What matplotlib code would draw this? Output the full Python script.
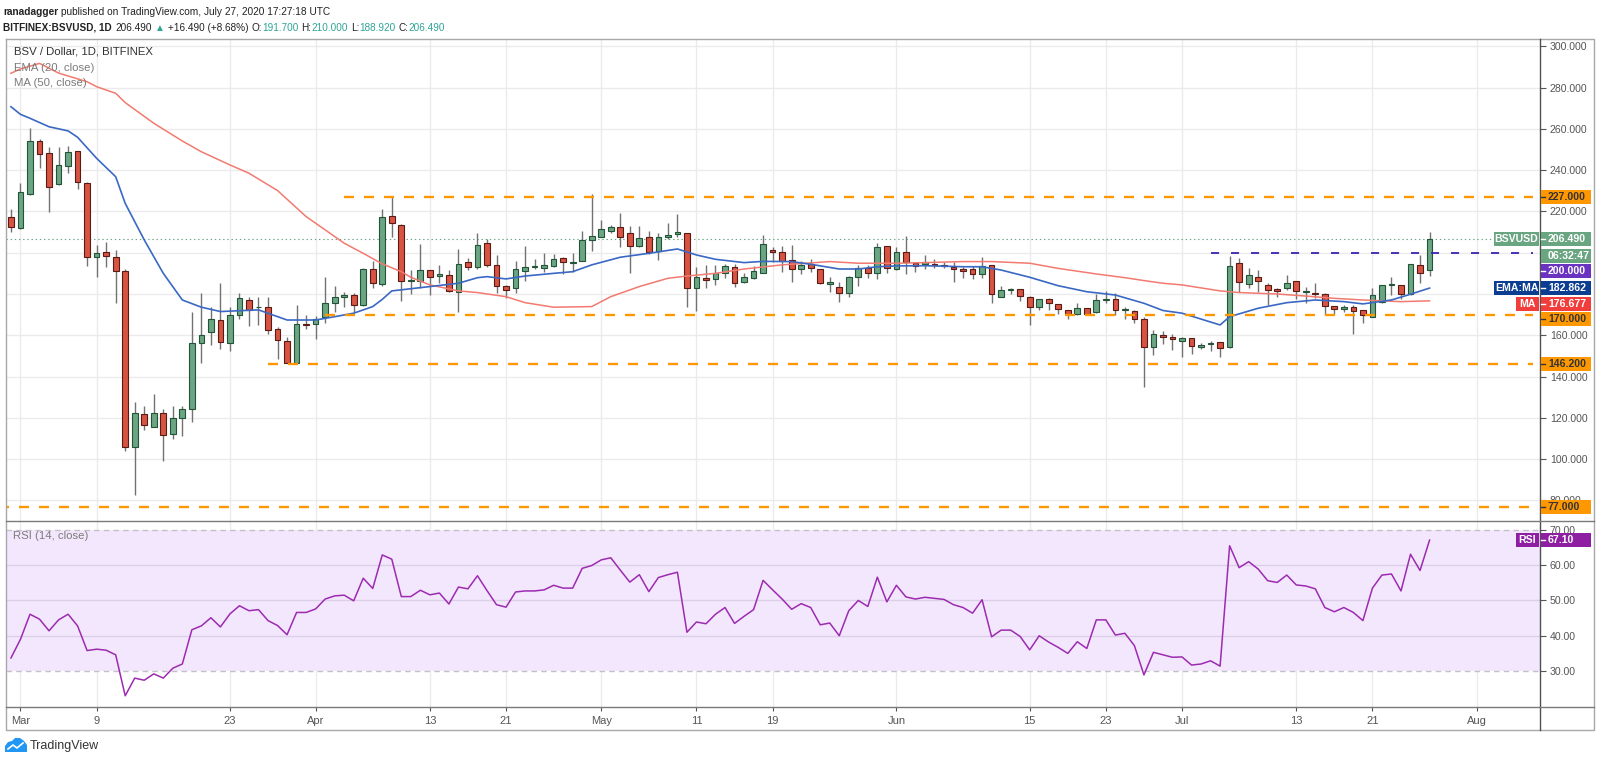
import pandas as pd
import matplotlib
matplotlib.use('Agg')
import matplotlib.pyplot as plt
import matplotlib.dates as mdates
from matplotlib.patches import Rectangle, Polygon
from matplotlib.lines import Line2D

plt.rcParams['font.family'] = ['Liberation Sans', 'DejaVu Sans']
plt.rcParams['lines.scale_dashes'] = False

W, H = 1600, 763

# daily candles, BITFINEX BSV/USD
dates = pd.date_range('2020-02-29', '2020-07-27', freq='D')
opens = [217.1, 211.8, 228.3, 254.3, 248.1, 233.3, 242.2, 249.1, 233.9, 198.1,
         200.5, 198.1, 191.0, 105.8, 121.7, 115.8, 122.2, 112.1, 120.1, 124.3,
         156.1, 161.6, 167.4, 156.4, 169.7, 177.1, 173.5, 173.6, 162.9, 157.4,
         146.8, 165.3, 165.5, 168.7, 175.5, 178.4, 179.4, 174.5, 192.3, 184.9,
         217.8, 213.4, 186.3, 186.5, 191.6, 188.7, 189.0, 181.1, 195.4, 192.9,
         204.6, 194.0, 184.0, 182.8, 191.3, 193.3, 192.8, 193.7, 197.6, 194.9,
         196.2, 206.2, 207.8, 210.5, 212.3, 209.4, 203.4, 207.5, 200.8, 207.5,
         208.9, 209.4, 183.1, 187.8, 187.4, 190.3, 193.3, 185.7, 187.6, 190.3,
         201.3, 200.5, 196.4, 192.3, 194.4, 192.3, 185.0, 183.6, 180.3, 188.1,
         192.6, 190.0, 203.2, 191.9, 200.5, 195.2, 194.4, 194.4, 193.9, 193.1,
         191.9, 191.9, 189.7, 193.9, 178.7, 181.9, 182.2, 178.7, 173.5, 177.4,
         175.0, 172.3, 170.3, 173.1, 171.1, 177.1, 177.7, 172.1, 171.8, 168.1,
         154.2, 160.2, 159.4, 157.4, 158.5, 154.2, 155.8, 156.6, 154.2, 194.9,
         184.9, 188.4, 184.4, 182.3, 182.8, 186.3, 181.1, 180.7, 179.9, 174.2,
         172.6, 173.9, 172.3, 169.0, 176.3, 184.4, 184.4, 180.0, 193.9, 191.7]
highs = [221.2, 233.6, 260.2, 255.1, 251.0, 251.0, 251.7, 249.4, 234.4, 203.7,
         205.0, 201.3, 192.3, 127.9, 125.8, 131.4, 124.3, 125.8, 125.8, 171.5,
         180.7, 173.9, 185.2, 173.6, 180.7, 178.7, 178.7, 178.4, 164.2, 159.0,
         174.5, 169.7, 169.5, 188.4, 184.1, 181.1, 180.3, 192.5, 196.0, 221.2,
         226.8, 213.9, 191.6, 204.2, 191.8, 194.0, 191.6, 201.6, 197.3, 209.4,
         206.5, 198.9, 184.4, 196.2, 203.3, 196.8, 200.0, 199.4, 197.8, 199.7,
         210.7, 228.4, 215.9, 213.4, 219.1, 213.0, 213.0, 210.5, 209.7, 214.2,
         218.6, 209.5, 193.3, 194.1, 194.1, 194.5, 194.5, 190.0, 193.7, 208.6,
         202.9, 203.2, 203.7, 196.1, 197.1, 192.3, 188.1, 185.6, 188.5, 194.0,
         194.2, 204.5, 203.4, 202.9, 208.1, 195.2, 198.7, 197.1, 195.6, 195.6,
         192.9, 193.5, 197.7, 194.0, 183.8, 182.7, 182.3, 178.8, 177.5, 178.2,
         175.1, 172.4, 175.8, 173.2, 180.0, 181.4, 180.6, 173.5, 172.2, 168.7,
         162.6, 162.3, 160.6, 159.4, 158.6, 156.1, 157.4, 156.9, 198.4, 197.3,
         192.4, 191.6, 185.2, 182.8, 189.2, 186.3, 183.6, 185.2, 180.3, 174.3,
         174.7, 174.7, 172.4, 182.8, 184.5, 188.4, 184.5, 194.5, 198.7, 210.0]
lows = [209.9, 211.5, 228.0, 240.9, 219.9, 233.0, 238.5, 230.7, 193.7, 188.1,
        193.3, 175.5, 104.0, 82.7, 114.2, 115.5, 99.1, 110.0, 111.3, 118.2,
        146.8, 155.3, 153.2, 152.6, 168.1, 164.7, 165.0, 160.8, 148.4, 146.4,
        146.5, 163.2, 158.2, 166.1, 171.3, 173.9, 171.0, 174.2, 182.8, 184.0,
        207.8, 176.6, 180.0, 182.8, 179.5, 185.5, 181.0, 171.5, 191.6, 192.0,
        193.3, 180.7, 178.2, 180.7, 186.5, 192.0, 190.5, 192.9, 189.5, 190.7,
        196.0, 200.8, 207.5, 209.4, 202.6, 190.3, 202.6, 199.2, 196.5, 206.5,
        207.8, 173.9, 171.9, 182.8, 184.4, 187.6, 183.6, 185.2, 187.1, 190.0,
        195.7, 190.8, 186.0, 189.7, 190.8, 184.8, 181.1, 176.3, 178.7, 184.0,
        187.9, 187.1, 190.0, 191.6, 189.5, 190.8, 191.9, 192.4, 192.4, 186.0,
        187.9, 187.4, 187.6, 175.8, 178.4, 180.0, 176.8, 164.8, 172.2, 172.2,
        170.2, 167.7, 169.8, 169.8, 170.8, 175.5, 169.8, 167.7, 165.9, 134.8,
        150.5, 155.8, 152.9, 149.3, 151.0, 153.2, 152.6, 149.7, 153.7, 181.1,
        182.8, 181.1, 174.7, 178.4, 182.0, 177.4, 175.8, 177.9, 169.8, 170.3,
        171.5, 160.6, 165.8, 168.8, 175.8, 179.5, 177.4, 179.5, 185.2, 188.92]
closes = [212.3, 229.6, 254.3, 247.8, 231.7, 242.5, 248.6, 234.4, 197.9, 200.0,
          198.3, 191.0, 105.8, 122.2, 116.4, 122.6, 111.7, 119.8, 124.2, 156.1,
          160.3, 168.1, 156.9, 169.7, 177.9, 172.3, 173.8, 162.7, 157.7, 146.8,
          165.3, 164.9, 168.1, 175.8, 178.4, 179.4, 174.5, 192.3, 185.2, 217.5,
          214.6, 186.3, 186.5, 191.6, 188.1, 189.5, 181.5, 194.4, 193.3, 203.6,
          194.1, 184.0, 182.0, 192.3, 193.1, 193.4, 194.1, 196.8, 195.4, 195.6,
          206.2, 208.1, 211.3, 212.3, 207.8, 203.4, 207.0, 200.5, 207.5, 208.4,
          209.9, 183.1, 188.1, 186.8, 190.3, 193.4, 185.5, 188.4, 191.3, 204.2,
          200.4, 196.1, 191.9, 193.9, 192.7, 185.3, 186.0, 180.3, 188.4, 192.4,
          190.3, 202.6, 192.4, 200.5, 195.3, 193.7, 195.5, 194.2, 193.8, 192.3,
          191.3, 189.7, 193.5, 179.8, 181.9, 182.0, 179.0, 173.9, 177.4, 175.5,
          172.7, 170.2, 173.1, 170.2, 177.1, 177.2, 172.2, 172.9, 168.1, 154.5,
          160.6, 159.4, 158.1, 158.5, 154.8, 155.3, 155.9, 153.7, 193.6, 186.0,
          189.2, 186.5, 182.0, 181.6, 185.2, 181.6, 181.2, 180.0, 174.2, 172.9,
          173.9, 171.9, 169.8, 179.5, 184.4, 184.9, 180.0, 194.4, 190.0, 206.49]

# RSI (14, close), one value per candle
rsi = [33.7, 39.0, 46.1, 44.7, 41.4, 44.5, 46.1, 42.8, 35.8, 36.2,
       35.9, 34.6, 23.0, 28.0, 27.4, 29.2, 28.0, 30.8, 32.0, 41.7,
       42.8, 45.1, 42.5, 46.2, 48.5, 47.1, 47.4, 44.3, 42.9, 40.3,
       46.6, 46.6, 47.6, 50.4, 51.3, 51.5, 49.9, 56.3, 53.4, 62.9,
       61.7, 51.1, 51.1, 52.9, 51.6, 52.1, 49.0, 53.8, 53.3, 57.0,
       52.8, 48.8, 48.1, 52.4, 52.7, 52.7, 53.0, 54.3, 53.5, 53.5,
       59.1, 59.9, 61.5, 62.1, 58.6, 55.2, 57.3, 52.5, 56.5, 57.3,
       58.0, 41.0, 43.9, 43.4, 46.1, 48.0, 43.5, 45.5, 47.4, 55.7,
       53.0, 50.4, 47.5, 49.1, 48.0, 43.1, 43.6, 40.0, 47.1, 50.0,
       48.3, 56.6, 49.6, 54.3, 51.0, 50.4, 50.9, 50.6, 50.3, 48.8,
       48.0, 46.4, 50.2, 39.7, 41.6, 41.6, 39.8, 36.0, 40.0, 38.2,
       36.7, 35.0, 38.3, 36.4, 44.5, 44.5, 40.2, 40.7, 37.2, 28.9,
       35.3, 34.6, 33.9, 34.0, 31.7, 32.0, 32.9, 31.4, 65.5, 59.3,
       61.0, 58.9, 55.6, 55.1, 57.2, 54.4, 54.1, 53.3, 48.0, 46.8,
       48.0, 46.6, 44.3, 53.5, 57.2, 57.5, 52.7, 63.1, 58.5, 67.1]

# EMA (20, close)
ema_dates = ['02-29', '03-01', '03-02', '03-04', '03-06', '03-07', '03-09', '03-11',
             '03-12', '03-14', '03-16', '03-18', '03-20', '03-22', '03-26', '03-29',
             '04-01', '04-03', '04-05', '04-07', '04-08', '04-09', '04-13', '04-16',
             '04-18', '04-19', '04-21', '04-23', '04-26', '04-28', '04-30', '05-03',
             '05-06', '05-09', '05-11', '05-13', '05-16', '05-18', '05-21', '05-23',
             '05-26', '05-28', '05-30', '06-01', '06-04', '06-08', '06-10', '06-12',
             '06-15', '06-18', '06-21', '06-24', '06-27', '06-29', '07-01', '07-05',
             '07-06', '07-09', '07-12', '07-15', '07-18', '07-20', '07-23', '07-25',
             '07-27']
ema_vals = [270.7, 267.0, 265.1, 261.0, 259.0, 255.9, 245.7, 236.8,
            223.9, 206.2, 190.0, 177.1, 173.6, 171.5, 172.3, 167.4,
            167.4, 169.0, 170.7, 173.9, 177.4, 181.5, 183.6, 185.2,
            187.9, 188.4, 187.3, 188.7, 190.0, 190.8, 194.1, 197.8,
            199.7, 201.8, 198.9, 196.8, 195.2, 195.8, 195.7, 194.4,
            192.1, 192.1, 193.2, 193.6, 193.7, 193.2, 193.2, 191.6,
            188.1, 184.0, 181.1, 179.5, 175.5, 172.0, 170.7, 165.0,
            169.0, 173.1, 175.8, 177.1, 176.3, 175.2, 177.1, 179.9,
            182.862]

# MA (50, close)
ma_dates = ['02-29', '03-01', '03-03', '03-05', '03-08', '03-09', '03-11', '03-12',
            '03-15', '03-18', '03-20', '03-23', '03-25', '03-28', '03-31', '04-04',
            '04-06', '04-08', '04-10', '04-11', '04-13', '04-16', '04-18', '04-21',
            '04-23', '04-26', '04-30', '05-02', '05-05', '05-08', '05-10', '05-13',
            '05-16', '05-20', '05-25', '05-28', '06-01', '06-04', '06-08', '06-11',
            '06-15', '06-18', '06-22', '06-25', '06-27', '06-29', '07-01', '07-05',
            '07-07', '07-11', '07-14', '07-17', '07-20', '07-24', '07-27']
ma_vals = [286.9, 289.0, 291.7, 287.0, 282.8, 280.4, 277.2, 272.7,
           262.7, 254.1, 248.9, 242.5, 238.5, 230.1, 217.5, 204.6,
           199.7, 194.6, 190.8, 188.1, 184.4, 181.5, 180.7, 178.7,
           175.8, 173.6, 173.9, 178.7, 183.6, 187.6, 188.7, 190.0,
           192.1, 194.1, 195.7, 194.9, 194.9, 195.2, 195.7, 195.7,
           194.9, 192.4, 189.7, 187.9, 186.5, 185.2, 184.4, 181.5,
           180.7, 180.0, 179.0, 177.9, 177.1, 176.3, 176.677]

# horizontal levels drawn by the author
level_prices = [227.0, 170.0, 146.2, 77.0]
level_starts = ['2020-04-04', '2020-04-02', '2020-03-27', '2020-02-27']
breakout_price = 200.0
breakout_start = '2020-07-04'

price_ticks = [80, 100, 120, 140, 160, 180, 200, 220, 240, 260, 280, 300]
hidden_ticks = [180, 200]          # covered by the price tags in the original
rsi_ticks = [30, 40, 50, 60, 70]
date_ticks = ['2020-03-01', '2020-03-09', '2020-03-23', '2020-04-01', '2020-04-13',
              '2020-04-21', '2020-05-01', '2020-05-11', '2020-05-19', '2020-06-01',
              '2020-06-15', '2020-06-23', '2020-07-01', '2020-07-13', '2020-07-21',
              '2020-08-01']
date_labels = ['Mar', '9', '23', 'Apr', '13', '21', 'May', '11', '19', 'Jun',
               '15', '23', 'Jul', '13', '21', 'Aug']

UP, UP_EDGE = '#6ba583', '#225437'
DOWN, DOWN_EDGE = '#d75442', '#5b1a13'
ORANGE = '#ff9800'
GRID = '#ebebeb'
TXT = '#555555'
FS = 7.6   # axis / tag font size


def fx(x):
    return x / W


def fy(y):
    return 1 - y / H


def to_num(days):
    return mdates.date2num(pd.to_datetime(['2020-' + d for d in days]))


fig = plt.figure(figsize=(W / 100, H / 100), dpi=100)
fig.patch.set_facecolor('white')

L, R, T, S1, S2, B, RR = 6, 1540, 39, 520.7, 706.7, 730, 1594
ax = fig.add_axes([fx(L), fy(S1), fx(R) - fx(L), fy(T) - fy(S1)])
ax_r = fig.add_axes([fx(L), fy(S2), fx(R) - fx(L), fy(S1) - fy(S2)], sharex=ax)

x = mdates.date2num(dates)
xmin, xmax = x[0] - 0.52, x[-1] + 11.6
line_end = x[-1] + 10.9
ax.set_xlim(xmin, xmax)
ax.set_ylim(70.2, 303.5)
ax_r.set_ylim(19.9, 72.6)

for a in (ax, ax_r):
    for s in a.spines.values():
        s.set_visible(False)
    for t in date_ticks:
        a.axvline(mdates.date2num(pd.Timestamp(t)), color=GRID, lw=1, zorder=0)

for p in price_ticks:
    ax.axhline(p, color=GRID, lw=1, zorder=0)

# candles
for i in range(len(dates)):
    o, c = opens[i], closes[i]
    up = c >= o
    bottom = min(o, c)
    height = max(abs(c - o), 0.35)
    ax.vlines(x[i], lows[i], highs[i], color='#727272', lw=1, zorder=2)
    ax.bar(x[i], height, bottom=bottom, width=0.6,
           color=UP if up else DOWN, edgecolor=UP_EDGE if up else DOWN_EDGE,
           lw=0.8, zorder=3)

ax.plot(to_num(ma_dates), ma_vals, color='#f27a70', lw=1.1, zorder=4)
ax.plot(to_num(ema_dates), ema_vals, color='#3a68c4', lw=1.2, zorder=4)

for p, s in zip(level_prices, level_starts):
    ax.plot([mdates.date2num(pd.Timestamp(s)), line_end], [p, p], color=ORANGE, lw=1.7,
            dashes=(7.2, 7.2), zorder=5)
ax.plot([mdates.date2num(pd.Timestamp(breakout_start)), line_end],
        [breakout_price, breakout_price], color='#3d21b0', lw=1.3, dashes=(5.8, 8.6), zorder=5)
ax.axhline(closes[-1], color=UP, lw=0.8, dashes=(1, 2), zorder=1)

ax.yaxis.tick_right()
ax.set_yticks(price_ticks)
ax.set_yticklabels(['' if p in hidden_ticks else '%.3f' % p for p in price_ticks])
ax.tick_params(axis='y', length=4, color='#555555', labelsize=FS, labelcolor=TXT, pad=3)
ax.tick_params(axis='x', bottom=False, labelbottom=False)

# RSI panel
ax_r.axhspan(30, 70, color='#f3e7fd', zorder=0, lw=0)
for v in (40, 50, 60):
    ax_r.axhline(v, color='#dccfe8', lw=1, zorder=0.5)
for v in (30, 70):
    ax_r.axhline(v, color='#c4c0c8', lw=1, dashes=(4, 3), zorder=0.5)
ax_r.plot(x, rsi, color='#9c2bb0', lw=1.1, zorder=3)
ax_r.yaxis.tick_right()
ax_r.set_yticks(rsi_ticks)
ax_r.set_yticklabels(['%.2f' % v for v in rsi_ticks])
ax_r.tick_params(axis='y', length=4, color='#555555', labelsize=FS, labelcolor=TXT, pad=3)
ax_r.set_xticks(mdates.date2num(pd.to_datetime(date_ticks)))
ax_r.set_xticklabels(date_labels)
ax_r.tick_params(axis='x', length=3, color='#555555', labelsize=8, labelcolor=TXT, pad=3.5)


# frame lines
def fline(xs, ys, color, lw=1.0):
    fig.add_artist(Line2D([fx(v) for v in xs], [fy(v) for v in ys], color=color, lw=lw,
                          transform=fig.transFigure, zorder=6))


fline([L, RR, RR, L, L], [T, T, B, B, T], '#a8a8a8')
fline([R, R], [T, B], '#505050')
fline([L, RR], [S1, S1], '#7a7a7a')
fline([L, RR], [S2, S2], '#7a7a7a')


def box(x0, y0, w, h, color):
    fig.add_artist(Rectangle((fx(x0), fy(y0 + h)), w / W, h / H, transform=fig.transFigure,
                             facecolor=color, edgecolor='none', zorder=10))


def tag(a, value, text, color, tcolor='white', label=None, label_w=0, shift=0.0):
    yc = H - a.transData.transform((xmin, value))[1] + shift
    box(R + 0.5, yc - 7, 50, 14, color)
    fig.add_artist(Line2D([fx(R + 1), fx(R + 5)], [fy(yc), fy(yc)], color=tcolor, lw=1,
                          transform=fig.transFigure, zorder=11))
    fig.text(fx(R + 8), fy(yc), text, color=tcolor, fontsize=FS, fontweight='bold',
             va='center', ha='left', zorder=12)
    if label:
        box(R - 1 - label_w, yc - 7, label_w, 14, color)
        fig.text(fx(R - 1 - label_w / 2), fy(yc), label, color=tcolor, fontsize=FS,
                 fontweight='bold', va='center', ha='center', zorder=12)
    return yc


tag(ax, 227.0, '227.000', ORANGE, '#333333')
yc = tag(ax, closes[-1], '%.3f' % closes[-1], '#6aa582', label='BSVUSD', label_w=45)
box(R + 0.5, yc + 9.5, 50, 14, '#6aa582')
fig.text(fx(R + 8), fy(yc + 16.5), '06:32:47', color='white', fontsize=FS, fontweight='bold',
         va='center', ha='left', zorder=12)
tag(ax, breakout_price, '200.000', '#6a34c0', shift=18.3)
tag(ax, ema_vals[-1], '%.3f' % ema_vals[-1], '#0b3d91', label='EMA:MA', label_w=45)
tag(ax, ma_vals[-1], '%.3f' % ma_vals[-1], '#f23d3d', label='MA', label_w=23, shift=3.6)
tag(ax, 170.0, '170.000', ORANGE, '#333333', shift=4)
tag(ax, 146.2, '146.200', ORANGE, '#333333')
tag(ax, 77.0, '77.000', ORANGE, '#333333')
tag(ax_r, rsi[-1], '%.2f' % rsi[-1], '#8e1fa3', label='RSI', label_w=23)

# legends inside the panes
fig.text(fx(14), fy(52), 'BSV / Dollar, 1D, BITFINEX', fontsize=8.2, color='#333333', va='center')
fig.text(fx(14), fy(68), 'EMA (20, close)', fontsize=8.2, color='#7b7b7b', va='center')
fig.text(fx(14), fy(83), 'MA (50, close)', fontsize=8.2, color='#7b7b7b', va='center')
fig.text(fx(13), fy(536), 'RSI (14, close)', fontsize=8.2, color='#7b7b7b', va='center')

# header lines; the original uses a condensed face, so the width is a compromise
renderer = fig.canvas.get_renderer()
TEAL = '#2ea597'


def text_run(x0, y0, pieces, target_w, size=8.0):
    def place(sz):
        out, xx = [], x0
        for s, color, weight, gap in pieces:
            t = fig.text(fx(xx), fy(y0), s, color=color, fontsize=sz, fontweight=weight,
                         va='center', ha='left')
            out.append(t)
            xx += t.get_window_extent(renderer).width + gap
        return out, xx - x0
    texts, w = place(size)
    for t in texts:
        t.remove()
    place(size * target_w / w)


text_run(3, 12, [('ranadagger', '#222222', 'bold', 3),
                 ('published on TradingView.com, July 27, 2020 17:27:18 UTC', '#222222', 'normal', 0)],
         330)
text_run(3, 28, [('BITFINEX:BSVUSD, 1D', '#222222', 'bold', 4),
                 ('206.490', '#222222', 'normal', 3),
                 ('\u25b2', TEAL, 'normal', 3),
                 ('+16.490 (+8.68%)', '#222222', 'normal', 3),
                 ('O:', '#222222', 'normal', 0), ('191.700', TEAL, 'normal', 3),
                 ('H:', '#222222', 'normal', 0), ('210.000', TEAL, 'normal', 3),
                 ('L:', '#222222', 'normal', 0), ('188.920', TEAL, 'normal', 3),
                 ('C:', '#222222', 'normal', 0), ('206.490', TEAL, 'normal', 0)],
         440)

# TradingView logo
cloud = [(5, 752), (5, 746), (8, 742), (12, 741), (15, 738), (20, 738), (24, 741),
         (27, 745), (27, 752)]
fig.add_artist(Polygon([(fx(a), fy(b)) for a, b in cloud], closed=True,
                       transform=fig.transFigure, facecolor='#2196f3', edgecolor='none'))
fig.add_artist(Line2D([fx(8), fx(13), fx(17), fx(23)], [fy(749), fy(745), fy(748), fy(743)],
                      color='white', lw=1.2, transform=fig.transFigure))
fig.text(fx(30), fy(746), 'TradingView', fontsize=9, color='#333333', va='center')

fig.savefig('out.png', dpi=100)
